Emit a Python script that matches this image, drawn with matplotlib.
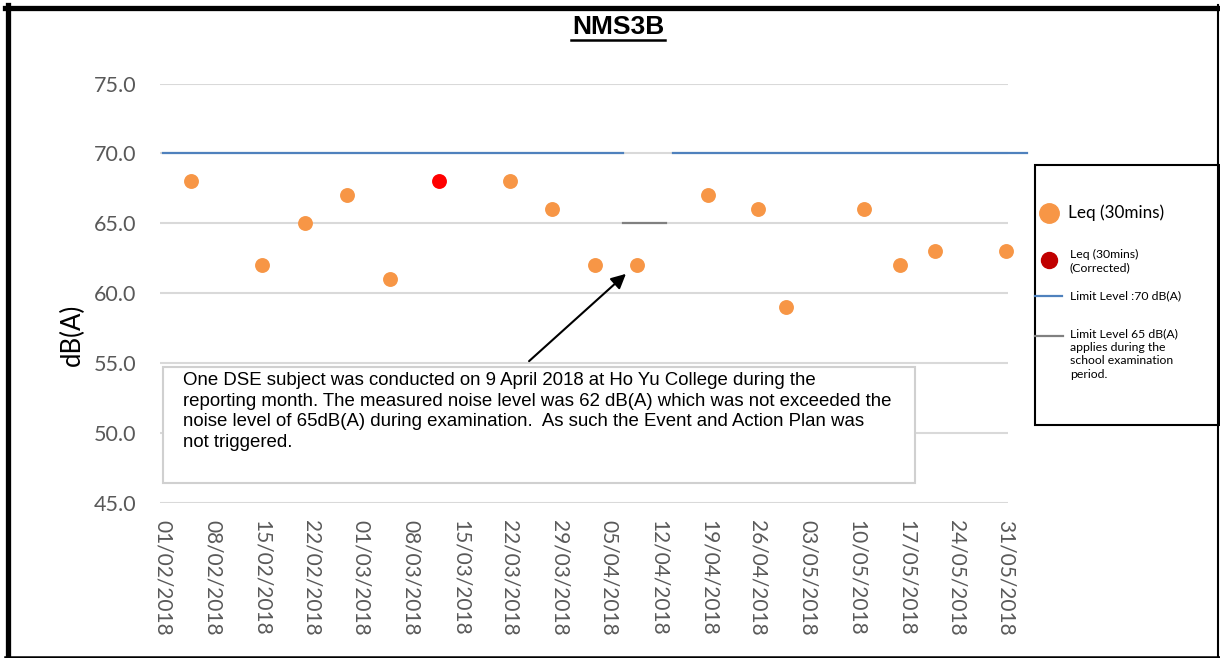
import matplotlib
matplotlib.use('Agg')
import matplotlib.pyplot as plt
import matplotlib.dates as mdates
import pandas as pd
from matplotlib.lines import Line2D
from matplotlib.patches import Rectangle

# Data
leq_dates = ['05/02/2018', '15/02/2018', '21/02/2018', '27/02/2018', '05/03/2018',
             '22/03/2018', '28/03/2018', '03/04/2018', '09/04/2018', '19/04/2018',
             '26/04/2018', '30/04/2018', '11/05/2018', '16/05/2018', '21/05/2018',
             '31/05/2018']
leq_values = [68, 62, 65, 67, 61, 68, 66, 62, 62, 67, 66, 59, 66, 62, 63, 63]

corr_dates = ['12/03/2018']
corr_values = [68]

limit70_a_dates = ['01/02/2018', '07/04/2018']
limit70_b_dates = ['14/04/2018', '03/06/2018']
limit70_value = 70
limit65_dates = ['07/04/2018', '13/04/2018']
limit65_value = 65

tick_labels = ['01/02/2018', '08/02/2018', '15/02/2018', '22/02/2018', '01/03/2018',
               '08/03/2018', '15/03/2018', '22/03/2018', '29/03/2018', '05/04/2018',
               '12/04/2018', '19/04/2018', '26/04/2018', '03/05/2018', '10/05/2018',
               '17/05/2018', '24/05/2018', '31/05/2018']
y_ticks = [45, 50, 55, 60, 65, 70, 75]

note = ("One DSE subject was conducted on 9 April 2018 at Ho Yu College during the\n"
        "reporting month. The measured noise level was 62 dB(A) which was not exceeded the\n"
        "noise level of 65dB(A) during examination.  As such the Event and Action Plan was\n"
        "not triggered.")


def to_num(lst):
    return mdates.date2num(pd.to_datetime(lst, format='%d/%m/%Y'))


W, H = 1220, 658


def px(x, y):
    # pixel position (from top-left) -> figure fraction
    return x / W, 1 - y / H


orange = '#F79646'
blue = '#4F81BD'
grey = '#808080'
tick_grey = '#595959'

fig = plt.figure(figsize=(W / 100, H / 100), dpi=100)
ax = fig.add_axes([160 / W, 1 - 503 / H, (1008 - 160) / W, (503 - 83.5) / H])

ax.scatter(to_num(leq_dates), leq_values, s=115, color=orange, zorder=3, clip_on=False, linewidths=0)
ax.scatter(to_num(corr_dates), corr_values, s=115, color='#FF0000', zorder=3, clip_on=False, linewidths=0)

ax.plot(to_num(limit70_a_dates), [limit70_value] * 2, color=blue, lw=1.6, zorder=2)
ax.plot(to_num(limit70_b_dates), [limit70_value] * 2, color=blue, lw=1.6, zorder=2, clip_on=False)
ax.plot(to_num(limit65_dates), [limit65_value] * 2, color=grey, lw=1.6, zorder=2)

start = to_num(['01/02/2018'])[0]
ax.set_xlim(start - 0.4, start + 119.3)
ax.set_ylim(45, 75)

ax.set_xticks(to_num(tick_labels))
ax.set_xticklabels(tick_labels, rotation=-90, ha='center', va='top',
                   fontsize=15, color=tick_grey, family='Lato')
ax.set_yticks(y_ticks)
ax.set_yticklabels([f'{v:.1f}' for v in y_ticks], fontsize=15.5, color=tick_grey, family='Lato')
ax.tick_params(axis='x', length=0, pad=12)
ax.tick_params(axis='y', length=0, pad=17)
ax.yaxis.grid(True, color='#D9D9D9', lw=1.5)
ax.set_axisbelow(True)
for s in ax.spines.values():
    s.set_visible(False)

# y label and title
fig.text(*px(72, 335), 'dB(A)', rotation=90, ha='center', va='center', fontsize=18.5, family='Lato')
fig.text(*px(618, 27), 'NMS3B', ha='center', va='center', fontsize=19, fontweight='bold',
         family='Liberation Sans')
fig.add_artist(Line2D([571 / W, 665 / W], [1 - 40 / H] * 2, color='black', lw=1.8))

# note box with arrow
fig.add_artist(Rectangle(px(163, 483), (915 - 163) / W, (483 - 367) / H, facecolor='white',
                         edgecolor='#D0D0D0', lw=1.5))
fig.text(*px(183, 372), note, ha='left', va='top', fontsize=13.4, family='Liberation Sans',
         linespacing=1.27)
ax.annotate('', xy=(628, H - 272), xycoords='figure pixels', xytext=(527, H - 363),
            textcoords='figure pixels',
            arrowprops=dict(arrowstyle='-|>', color='black', lw=1.5, mutation_scale=22))

# legend box
fig.add_artist(Rectangle(px(1035, 425), (1219 - 1035) / W, (425 - 165) / H, facecolor='none',
                         edgecolor='black', lw=1.5))
fig.add_artist(Line2D([1049 / W], [1 - 213 / H], marker='o', ms=14, color=orange, mec=orange))
fig.text(*px(1068, 213), 'Leq (30mins)', va='center', fontsize=12.3, family='Lato')
fig.add_artist(Line2D([1049 / W], [1 - 260 / H], marker='o', ms=11.5, color='#C00000', mec='#C00000'))
fig.text(*px(1070, 261), 'Leq (30mins)\n(Corrected)', va='center', fontsize=8.8, family='Lato',
         linespacing=1.3)
fig.add_artist(Line2D([1035 / W, 1062 / W], [1 - 296 / H] * 2, color=blue, lw=1.6))
fig.text(*px(1070, 296), 'Limit Level :70 dB(A)', va='center', fontsize=8.8, family='Lato')
fig.add_artist(Line2D([1035 / W, 1063 / W], [1 - 336 / H] * 2, color=grey, lw=1.6))
fig.text(*px(1070, 328), 'Limit Level 65 dB(A)\napplies during the\nschool examination\nperiod.',
         va='top', fontsize=8.8, family='Lato', linespacing=1.3)

# outer frame
fig.add_artist(Line2D([5 / W, 1219 / W], [1 - 7.5 / H] * 2, color='black', lw=3.8))
fig.add_artist(Line2D([7.5 / W] * 2, [1 - 5 / H, 0], color='black', lw=3.8))
fig.add_artist(Line2D([5 / W, 1219 / W], [1 - 657 / H] * 2, color='black', lw=1.8))
fig.add_artist(Line2D([1218 / W] * 2, [1 - 5 / H, 0], color='black', lw=1.5))

fig.savefig('out.png', dpi=100)
